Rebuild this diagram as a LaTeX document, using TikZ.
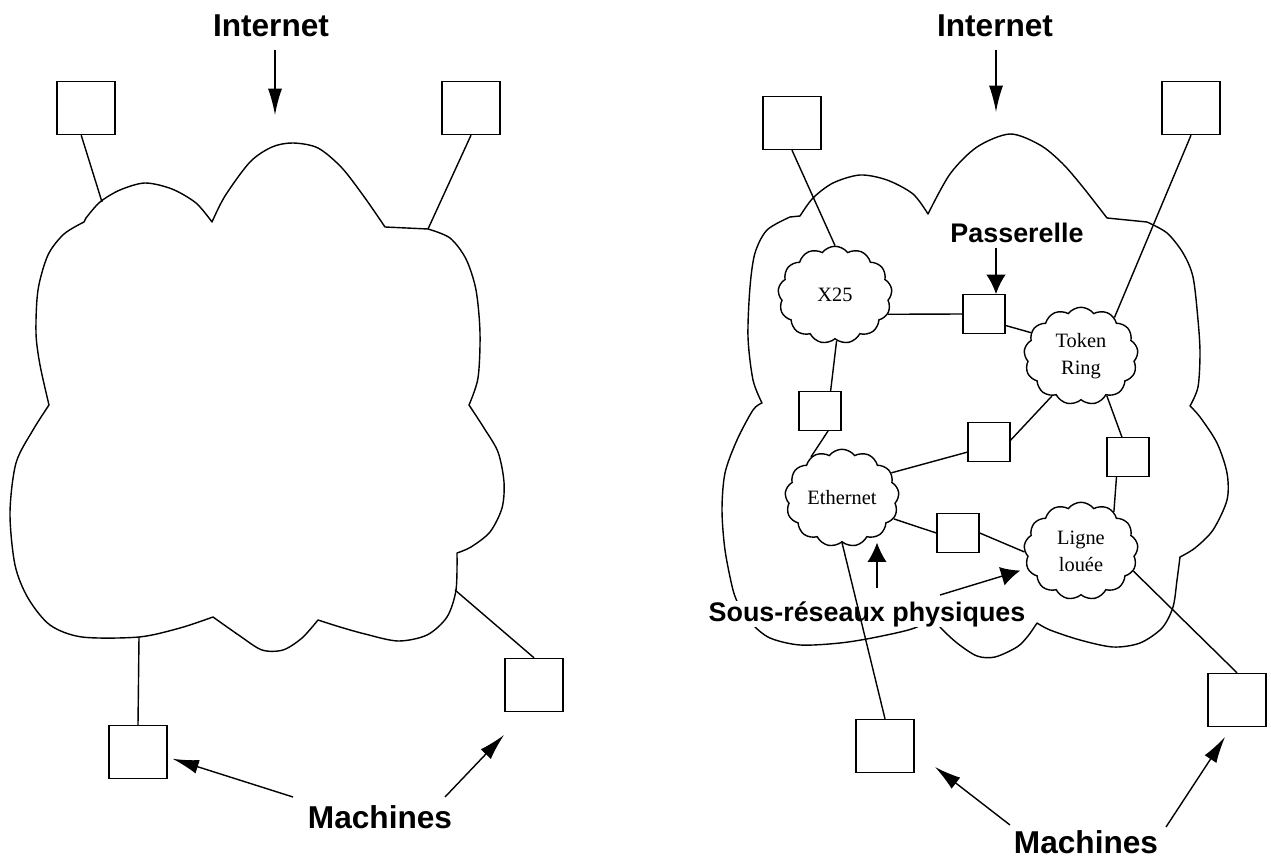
\documentclass[tikz,border=0pt]{standalone}
\usepackage{fontspec}
\setmainfont{Liberation Serif}
\newfontfamily\labelfont{Liberation Sans}
\usetikzlibrary{arrows.meta,shapes.symbols}

\begin{document}
\begin{tikzpicture}[x=0.02cm,y=-0.02cm,
  line width=0.8pt,
  machine/.style={draw, minimum width=1.16cm, minimum height=1.06cm, inner sep=0pt},
  gateway/.style={draw, minimum width=0.84cm, minimum height=0.77cm, inner sep=0pt},
  subnet/.style={draw, cloud, cloud puffs=13, cloud puff arc=105, cloud ignores aspect,
    minimum width=2.28cm, minimum height=1.95cm, inner sep=0pt,
    font=\fontsize{11.6}{15.5}\selectfont, align=center},
  biglabel/.style={font=\labelfont\bfseries\fontsize{18}{20}\selectfont, inner sep=0pt, anchor=base},
  midlabel/.style={font=\labelfont\bfseries\fontsize{15.3}{17}\selectfont, inner sep=0pt, anchor=base},
  longtip/.style={-{Latex[length=15pt,width=8pt]}},
  widetip/.style={-{Latex[length=11pt,width=11pt]}},
  outline/.style={line width=0.8pt, line join=round}
]
\path[use as bounding box, fill=white] (0,0) rectangle (1271,858);

% ---------- left: the Internet seen as a single cloud ----------
\draw[outline]
  plot[smooth] coordinates {(49,405) (40,365) (36,333) (38,290) (48,255) (64,234) (84,222)}
  -- plot[smooth] coordinates {(86,218) (100,202) (120,190) (145,183) (172,189) (196,203) (212,222)}
  -- plot[smooth] coordinates {(212,222) (225,196) (250,162) (272,147) (293,143) (318,148) (342,168) (365,198) (385,227)}
  -- (428,229)
  -- plot[smooth] coordinates {(428,229) (450,238) (466,259) (476,290) (480,333) (478,378) (469,405)}
  -- plot[smooth] coordinates {(469,405) (484,428) (498,452) (504,482) (502,508) (490,532) (471,547) (457,553)}
  -- plot[smooth] coordinates {(457,553) (456,590) (447,617) (427,635) (398,641) (365,634) (340,627) (318,620)}
  -- plot[smooth] coordinates {(318,620) (302,638) (283,650) (262,650) (240,636) (213,617)}
  -- plot[smooth] coordinates {(213,617) (180,628) (139,637) (82,637) (50,625) (28,598) (15,565) (10,513) (16,463) (33,430) (49,405)}
  -- cycle;

\coordinate (lc1) at (102,202);
\coordinate (lc2) at (428,229);
\coordinate (lc3) at (139,637);
\coordinate (lc4) at (455,590);

\node[machine] (lTL) at (86,108) {};
\node[machine] (lTR) at (471,108) {};
\node[machine] (lBL) at (138,752) {};
\node[machine] (lBR) at (534,685) {};

\node[biglabel] (inetL) at (271,37) {Internet};
\node[biglabel] (machL) at (380,828) {Machines};

\draw (lTL.-100) -- (lc1);
\draw (lTR.south) -- (lc2);
\draw (lc3) -- (lBL.north);
\draw (lc4) -- (lBR.north);

\coordinate (ia1) at (275,50);
\coordinate (ia2) at (275,115);
\draw[longtip] (ia1) -- (ia2);

\coordinate (ma1) at (293,797);
\coordinate (ma2) at (445,797);
\coordinate (ma3) at (504,735);
\draw[longtip, shorten >=0.1cm] (ma1) -- (lBL.-10);
\draw[longtip] (ma2) -- (ma3);

% ---------- right: the Internet made of physical subnetworks ----------
\draw[outline]
  plot[smooth] coordinates {(762,403) (753,380) (748,337) (750,287) (755,253) (767,230) (790,217)}
  -- plot[smooth] coordinates {(800,216) (813,198) (833,183) (860,175) (887,180) (913,194) (928,214)}
  -- plot[smooth] coordinates {(928,214) (950,174) (977,147) (1010,134) (1040,145) (1062,163) (1082,186) (1107,218)}
  -- (1147,222)
  -- plot[smooth] coordinates {(1147,222) (1167,233) (1183,253) (1193,277) (1198,320) (1200,353) (1198,387) (1190,406)}
  -- plot[smooth] coordinates {(1190,406) (1200,417) (1217,443) (1227,473) (1227,500) (1213,530) (1195,548) (1180,557)}
  -- plot[smooth] coordinates {(1180,557) (1177,580) (1173,607) (1162,628) (1140,643) (1113,647) (1080,640) (1050,630) (1037,623)}
  -- plot[smooth] coordinates {(1037,623) (1028,636) (1017,647) (995,657) (977,656) (957,643) (940,627) (928,612)}
  -- plot[smooth] coordinates {(928,612) (917,627) (877,637) (840,643) (800,645) (770,638) (752,624) (740,607) (733,590) (725,550) (722,510) (725,473) (737,440) (753,410) (762,403)}
  -- cycle;

\node[subnet] (x25) at (835,295) {X25};
\node[subnet] (tok) at (1081,356) {Token\\Ring};
\node[subnet] (eth) at (842,498) {Ethernet};
\node[subnet] (lig) at (1081,551) {Ligne\\louée};

\node[gateway] (g1) at (984,314) {};
\node[gateway] (g2) at (820,411) {};
\node[gateway] (g3) at (989,442) {};
\node[gateway] (g4) at (1128,457) {};
\node[gateway] (g5) at (958,533) {};

\node[machine] (rTL) at (792,123) {};
\node[machine] (rTR) at (1191,108) {};
\node[machine] (rBL) at (885,746) {};
\node[machine] (rBR) at (1237,700) {};

\node[biglabel] (inetR) at (995,37) {Internet};
\node[midlabel] (pass) at (1017,243) {Passerelle};
\node[midlabel, fill=white] (srp) at (867,621) {Sous-réseaux physiques};
\node[biglabel] (machR) at (1086,853) {Machines};

% links between subnetworks and gateways
\draw (x25.-20) -- (g1.west);
\draw (g1.-28) -- (tok.155);
\draw (x25.-88) -- (g2.62);
\draw (g2.-68) -- (eth.127);
\draw (eth.27) -- (g3.205);
\draw (g3.5) -- (tok.234);
\draw (tok.-57) -- (g4.107);
\draw (g4.240) -- (lig.50);
\draw (eth.-22) -- (g5.west);
\draw (g5.east) -- (lig.181);

% machines attached to subnetworks
\draw (rTL.south) -- (x25.north);
\draw (rTR.south) -- (tok.49);
\draw (eth.south) -- (rBL.north);
\draw (lig.-21) -- (rBR.north);

% labels and pointers
\coordinate (ib1) at (996,50);
\coordinate (ib2) at (996,112);
\draw[longtip] (ib1) -- (ib2);

\coordinate (pa1) at (996,248);
\draw[widetip] (pa1) -- (pa1 |- g1.north);

\coordinate (sr1) at (877,588);
\draw[widetip] (sr1) -- (sr1 |- eth.south);
\coordinate (sr2) at (940,595);
\draw[widetip, shorten >=0.14cm] (sr2) -- (lig.198);

\coordinate (mb1) at (1010,825);
\coordinate (mb2) at (935,767);
\coordinate (mb3) at (1166,827);
\coordinate (mb4) at (1225,737);
\draw[longtip] (mb1) -- (mb2);
\draw[longtip] (mb3) -- (mb4);
\end{tikzpicture}
\end{document}
